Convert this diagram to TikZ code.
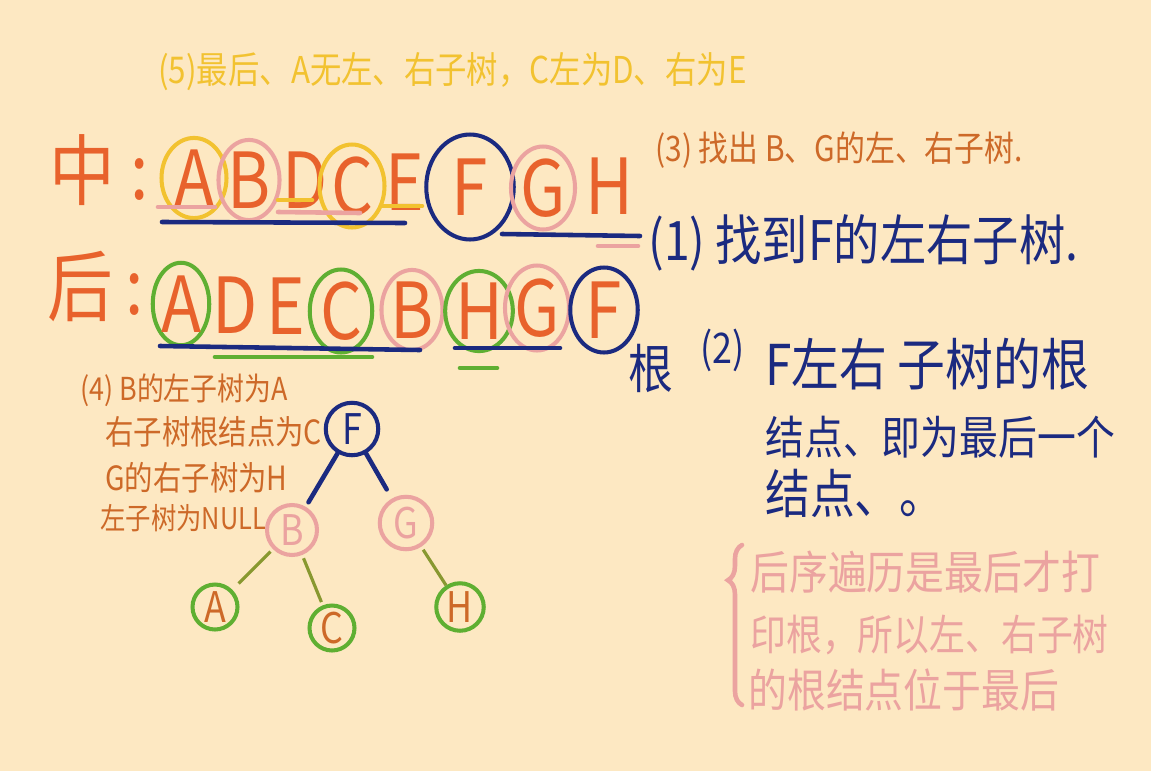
\documentclass[tikz,border=0pt]{standalone}
\usepackage{fontspec}
\newfontfamily\hand[FakeStretch=0.85]{Noto Sans CJK SC}
\usetikzlibrary{shapes.geometric,decorations.pathreplacing}
\definecolor{paper}{RGB}{253,232,194}
\definecolor{ink}{RGB}{232,98,44}
\definecolor{navy}{RGB}{27,42,128}
\definecolor{gold}{RGB}{242,194,48}
\definecolor{rose}{RGB}{235,163,160}
\definecolor{leaf}{RGB}{95,175,50}
\definecolor{mixed}{RGB}{205,105,40}
\tikzset{
	letter/.style={text=ink, font=\hand\fontsize{44}{44}\selectfont, inner sep=0pt},
	bigchar/.style={text=ink, font=\hand\fontsize{44}{44}\selectfont, inner sep=0pt},
	ring/.style={ellipse, draw=#1, line width=2.3pt},
	note/.style={anchor=west, inner sep=0pt},
	pen/.style={line width=2.6pt, line cap=round},
	treenode/.style={circle, draw=#1, line width=2.3pt, inner sep=0pt, font=\hand\fontsize{24}{24}\selectfont},
}

\begin{document}
\begin{tikzpicture}[x=0.02cm,y=-0.02cm]
	\useasboundingbox[fill=paper] (0,0) rectangle (1151,771);
	
	\node[note, text=gold, font=\hand\fontsize{21}{21}\selectfont] (stepfive) at (158,72) {(5)最后、A无左、右子树，C左为D、右为E};
	\node[note, text=mixed, font=\hand\fontsize{20}{20}\selectfont] (stepthree) at (655,150) {(3) 找出 B、G的左、右子树.};
	
	% in-order row
	\node[bigchar] (zhong) at (82,170) {中};
	\node[letter] (zcolon) at (140,180) {:};
	\node[letter, ring=gold, minimum width=1.3cm, minimum height=1.55cm] (inA) at (194,178) {A};
	\node[letter, ring=rose, minimum width=1.1cm, minimum height=1.5cm] (inB) at (249,180) {B};
	\node[letter] (inD) at (305,180) {D};
	\node[letter, ring=gold, minimum width=1.3cm, minimum height=1.5cm] (inC) at (352,186) {C};
	\node[letter] (inE) at (405,182) {E};
	\node[letter, ring=navy, minimum width=1.75cm, minimum height=2.1cm] (inF) at (470,187) {F};
	\node[letter, ring=rose, minimum width=1.15cm, minimum height=1.55cm] (inG) at (543,188) {G};
	\node[letter] (inH) at (609,186) {H};
	\draw[pen, rose] (158,207) -- (215,207);
	\draw[pen, gold] (278,200) -- (312,200);
	\draw[pen, rose] (278,212) -- (360,213);
	\draw[pen, gold] (382,206) -- (422,206);
	\draw[pen, navy] (162,222) -- (405,223);%left part
	\draw[pen, navy] (502,234) -- (640,236);%right part
	\draw[pen, rose] (598,246) -- (638,246);
	
	% post-order row
	\node[bigchar] (hou) at (80,287) {后};
	\node[letter] (hcolon) at (135,295) {:};
	\node[letter, ring=leaf, minimum width=0.95cm, minimum height=1.65cm] (postA) at (181,304) {A};
	\node[letter] (postD) at (235,305) {D};
	\node[letter] (postE) at (286,306) {E};
	\node[letter, ring=leaf, minimum width=1.25cm, minimum height=1.55cm] (postC) at (341,311) {C};
	\node[letter, ring=rose, minimum width=1.2cm, minimum height=1.6cm] (postB) at (412,310) {B};
	\node[letter, ring=leaf, minimum width=1.15cm, minimum height=1.55cm] (postH) at (479,311) {H};
	\node[letter, ring=rose, minimum width=1.25cm, minimum height=1.7cm] (postG) at (537,308) {G};
	\node[letter, ring=navy, minimum width=1.35cm, minimum height=1.7cm] (postF) at (604,310) {F};
	\draw[pen, navy] (160,346) -- (420,350);
	\draw[pen, leaf] (215,357) -- (372,357);
	\draw[pen, navy] (455,348) -- (560,348);
	\draw[pen, leaf] (460,368) -- (497,368);
	\node[note, text=navy, font=\hand\fontsize{30}{30}\selectfont] (gen) at (628,368) {根};
	
	% steps 1 and 2
	\node[note, text=navy, font=\hand\fontsize{31}{31}\selectfont] (stepone) at (648,243) {(1) 找到F的左右子树.};
	\node[note, text=navy, font=\hand\fontsize{24}{24}\selectfont] (steptwo) at (700,350) {(2)};
	\node[note, text=navy, font=\hand\fontsize{32}{32}\selectfont] (twoa) at (765,364) {F左右 子树的根};
	\node[note, text=navy, font=\hand\fontsize{26}{26}\selectfont] (twob) at (765,437) {结点、即为最后一个};
	\node[note, text=navy, font=\hand\fontsize{30}{30}\selectfont] (twoc) at (765,493) {结点、。};
	
	% step 4
	\node[note, text=mixed, font=\hand\fontsize{18}{18}\selectfont] (foura) at (80,390) {(4) B的左子树为A};
	\node[note, text=mixed, font=\hand\fontsize{19}{19}\selectfont] (fourb) at (105,432) {右子树根结点为C};
	\node[note, text=mixed, font=\hand\fontsize{19}{19}\selectfont] (fourc) at (105,478) {G的右子树为H};
	\node[note, text=mixed, font=\hand\fontsize{17}{17}\selectfont] (fourd) at (100,518) {左子树为NULL};
	
	% the tree
	\node[treenode=navy, text=navy, minimum size=1.05cm] (F) at (352,429) {F};
	\node[treenode=rose, text=rose, minimum size=1.0cm] (B) at (292,530) {B};
	\node[treenode=rose, text=rose, minimum size=1.05cm] (G) at (406,523) {G};
	\node[treenode=leaf, text=mixed, minimum size=0.9cm] (A) at (215,607) {A};
	\node[treenode=leaf, text=mixed, minimum size=0.9cm] (C) at (332,628) {C};
	\node[treenode=leaf, text=mixed, minimum size=0.95cm] (H) at (460,607) {H};
	\draw[pen, navy, shorten >=3pt] (F) -- (B);
	\draw[pen, navy, shorten >=6pt] (F) -- (G);
	\draw[line width=1.8pt, leaf!70!ink, shorten >=5pt, shorten <=2pt] (B) -- (A);
	\draw[line width=1.8pt, leaf!70!ink, shorten >=2pt, shorten <=2pt] (B) -- (C);
	\draw[line width=1.8pt, leaf!70!ink, shorten <=2pt] (G) -- (H);
	
	% pink remark
	\draw[pen, rose, decorate, decoration={brace, amplitude=8pt, aspect=0.78}] (742,705) -- (742,545);
	\node[note, text=rose, font=\hand\fontsize{26}{26}\selectfont] (remarka) at (750,572) {后序遍历是最后才打};
	\node[note, text=rose, font=\hand\fontsize{24}{24}\selectfont] (remarkb) at (750,635) {印根，所以左、右子树};
	\node[note, text=rose, font=\hand\fontsize{26}{26}\selectfont] (remarkc) at (748,690) {的根结点位于最后};
\end{tikzpicture}
\end{document}
